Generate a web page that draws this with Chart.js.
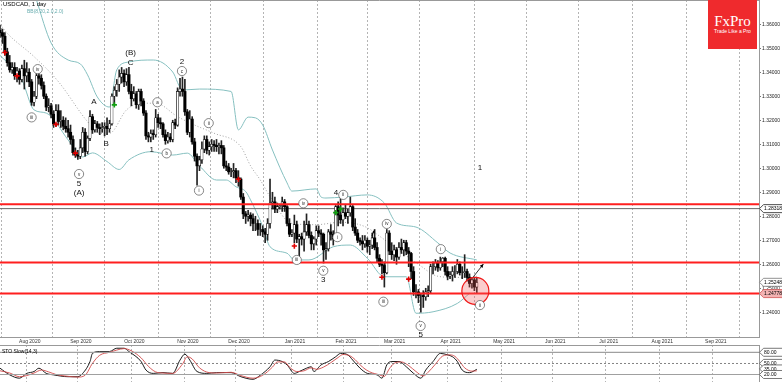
<!DOCTYPE html>
<html>
<head>
<meta charset="utf-8">
<title>USDCAD, 1 day</title>
<script src="https://cdn.jsdelivr.net/npm/chart.js@4.4.1/dist/chart.umd.min.js"></script>
<style>
  html, body { margin:0; padding:0; background:#fff; }
  body { width:782px; height:382px; position:relative; overflow:hidden; font-family:"Liberation Sans", Arial, sans-serif; }
  #main { position:absolute; left:0; top:0; }
  #sto { position:absolute; left:0; top:345px; }
  .title { position:absolute; left:3px; top:1px; font-size:6px; color:#000; white-space:nowrap; line-height:1; }
  .bb { position:absolute; left:27px; top:9px; font-size:5px; color:#6aaeb0; white-space:nowrap; line-height:1; }
  .sto-title { position:absolute; left:2px; top:349px; font-size:5px; color:#000; white-space:nowrap; line-height:1; }
  .logo { position:absolute; left:708px; top:0; width:49px; height:49px; background:#ef2a2d; color:#fff; text-align:center; }
  .logo .brand { font-family:"Liberation Serif", serif; font-size:15px; position:absolute; top:14px; left:0; width:100%; line-height:1; }
  .logo .tag { font-size:5px; position:absolute; top:29px; left:0; width:100%; line-height:1; }
</style>
</head>
<body>
<canvas id="main" width="782" height="345"></canvas>
<canvas id="sto" width="782" height="37"></canvas>
<div class="title">USDCAD, 1 day</div>
<div class="bb">BB(8,20,2.0,2.0)</div>
<div class="sto-title">STO Slow(14,3)</div>
<div class="logo"><div class="brand">FxPro</div><div class="tag">Trade Like a Pro</div></div>
<script>
// ---------------- DATA ----------------
const MONTHS = ['Jan','Feb','Mar','Apr','May','Jun','Jul','Aug','Sep','Oct','Nov','Dec'];
// trading-day categories (weekdays) 17 Jul 2020 .. 28 Sep 2021
const categories = [];
(function () {
  const d = new Date(Date.UTC(2020, 6, 17)), end = Date.UTC(2021, 8, 28);
  while (d.getTime() <= end) {
    const w = d.getUTCDay();
    if (w !== 0 && w !== 6) categories.push(d.toISOString().slice(0, 10));
    d.setUTCDate(d.getUTCDate() + 1);
  }
})();

const priceTicks = [1.24,1.25,1.26,1.27,1.28,1.29,1.30,1.31,1.32,1.33,1.34,1.35,1.36];

const opens = [
1.3575,1.3565,1.3550,1.3485,1.3440,1.3410,1.3420,1.3385,1.3405,1.3370,
1.3415,1.3385,1.3400,1.3360,1.3275,1.3300,1.3385,1.3375,1.3345,1.3300,
1.3255,1.3260,1.3225,1.3185,1.3240,1.3195,1.3200,1.3175,1.3165,1.3150,
1.3120,1.3065,1.3055,1.3050,1.3085,1.3150,1.3070,1.3125,1.3215,1.3160,
1.3185,1.3170,1.3165,1.3170,1.3175,1.3165,1.3185,1.3300,1.3325,1.3350,
1.3380,1.3395,1.3360,1.3390,1.3320,1.3290,1.3310,1.3265,1.3320,1.3280,
1.3230,1.3135,1.3130,1.3145,1.3140,1.3210,1.3190,1.3185,1.3140,1.3115,
1.3130,1.3120,1.3190,1.3180,1.3320,1.3330,1.3320,1.3235,1.3150,1.3205,
1.3110,1.3050,1.3010,1.3035,1.3080,1.3120,1.3075,1.3090,1.3100,1.3095,
1.3090,1.3095,1.3085,1.3010,1.3005,1.2985,1.2985,1.2990,1.2960,1.2955,
1.2880,1.2810,1.2800,1.2805,1.2790,1.2770,1.2770,1.2745,1.2745,1.2735,
1.2725,1.2770,1.2855,1.2860,1.2830,1.2840,1.2845,1.2860,1.2840,1.2770,
1.2725,1.2730,1.2765,1.2705,1.2715,1.2705,1.2735,1.2765,1.2720,1.2685,
1.2705,1.2740,1.2730,1.2725,1.2660,1.2665,1.2735,1.2725,1.2705,1.2840,
1.2805,1.2785,1.2815,1.2800,1.2815,1.2840,1.2755,1.2730,1.2700,1.2695,
1.2685,1.2700,1.2675,1.2680,1.2710,1.2670,1.2625,1.2600,1.2595,1.2565,
1.2730,1.2655,1.2640,1.2660,1.2630,1.2670,1.2660,1.2690,1.2655,1.2645,
1.2570,1.2485,1.2485,1.2470,1.2470,1.2465,1.2485,1.2490,1.2590,1.2590,
1.2605,1.2585,1.2610,1.2625,1.2570,1.2550,1.2555,1.2570,1.2570,1.2600,
1.2565,1.2565,1.2570,1.2545,1.2520,1.2535,1.2505];
const highs = [
1.3595,1.3580,1.3565,1.3500,1.3470,1.3440,1.3440,1.3420,1.3415,1.3430,
1.3450,1.3440,1.3415,1.3370,1.3320,1.3395,1.3395,1.3390,1.3360,1.3310,
1.3290,1.3270,1.3240,1.3265,1.3265,1.3240,1.3215,1.3210,1.3200,1.3180,
1.3135,1.3085,1.3075,1.3120,1.3170,1.3165,1.3135,1.3240,1.3225,1.3200,
1.3195,1.3185,1.3190,1.3190,1.3210,1.3200,1.3310,1.3340,1.3370,1.3410,
1.3420,1.3410,1.3415,1.3420,1.3350,1.3340,1.3320,1.3330,1.3330,1.3290,
1.3240,1.3150,1.3160,1.3160,1.3245,1.3225,1.3210,1.3190,1.3160,1.3150,
1.3145,1.3200,1.3205,1.3335,1.3375,1.3380,1.3370,1.3245,1.3240,1.3215,
1.3125,1.3060,1.3050,1.3110,1.3135,1.3135,1.3110,1.3120,1.3115,1.3120,
1.3105,1.3115,1.3095,1.3030,1.3020,1.3000,1.3020,1.3000,1.2990,1.2960,
1.2895,1.2820,1.2825,1.2815,1.2810,1.2800,1.2785,1.2770,1.2760,1.2750,
1.2790,1.2955,1.2900,1.2880,1.2855,1.2850,1.2880,1.2870,1.2845,1.2790,
1.2745,1.2805,1.2780,1.2725,1.2730,1.2780,1.2810,1.2780,1.2735,1.2715,
1.2760,1.2760,1.2745,1.2730,1.2690,1.2745,1.2765,1.2740,1.2845,1.2860,
1.2880,1.2835,1.2850,1.2830,1.2880,1.2845,1.2790,1.2745,1.2710,1.2720,
1.2720,1.2710,1.2700,1.2730,1.2745,1.2690,1.2640,1.2620,1.2610,1.2745,
1.2740,1.2690,1.2680,1.2670,1.2690,1.2705,1.2700,1.2700,1.2670,1.2650,
1.2590,1.2515,1.2495,1.2480,1.2490,1.2500,1.2510,1.2600,1.2610,1.2620,
1.2615,1.2630,1.2628,1.2630,1.2590,1.2570,1.2590,1.2595,1.2620,1.2610,
1.2590,1.2640,1.2580,1.2560,1.2545,1.2545,1.2545];
const lows = [
1.3545,1.3520,1.3470,1.3425,1.3400,1.3395,1.3370,1.3360,1.3350,1.3360,
1.3330,1.3360,1.3340,1.3262,1.3260,1.3290,1.3350,1.3330,1.3290,1.3240,
1.3235,1.3210,1.3170,1.3175,1.3180,1.3170,1.3160,1.3150,1.3130,1.3100,
1.3055,1.3045,1.3037,1.3040,1.3065,1.3050,1.3060,1.3115,1.3145,1.3150,
1.3150,1.3140,1.3150,1.3135,1.3140,1.3150,1.3180,1.3265,1.3300,1.3320,
1.3355,1.3340,1.3345,1.3310,1.3260,1.3280,1.3250,1.3245,1.3260,1.3220,
1.3120,1.3110,1.3110,1.3120,1.3130,1.3170,1.3165,1.3130,1.3100,1.3105,
1.3110,1.3110,1.3165,1.3175,1.3300,1.3300,1.3220,1.3140,1.3130,1.3100,
1.3030,1.2930,1.2990,1.3020,1.3065,1.3060,1.3055,1.3070,1.3070,1.3070,
1.3060,1.3060,1.3000,1.2990,1.2975,1.2965,1.2960,1.2940,1.2925,1.2870,
1.2790,1.2770,1.2780,1.2760,1.2740,1.2740,1.2720,1.2720,1.2715,1.2690,
1.2700,1.2750,1.2830,1.2815,1.2815,1.2830,1.2820,1.2820,1.2760,1.2715,
1.2715,1.2690,1.2690,1.2630,1.2680,1.2655,1.2720,1.2710,1.2660,1.2660,
1.2680,1.2715,1.2680,1.2605,1.2620,1.2655,1.2700,1.2680,1.2700,1.2760,
1.2770,1.2760,1.2790,1.2770,1.2800,1.2740,1.2720,1.2690,1.2680,1.2660,
1.2670,1.2650,1.2640,1.2665,1.2660,1.2610,1.2590,1.2560,1.2505,1.2560,
1.2640,1.2620,1.2615,1.2600,1.2620,1.2645,1.2635,1.2640,1.2590,1.2540,
1.2470,1.2460,1.2440,1.2400,1.2420,1.2450,1.2465,1.2480,1.2560,1.2575,
1.2570,1.2575,1.2590,1.2555,1.2535,1.2540,1.2530,1.2545,1.2560,1.2555,
1.2540,1.2545,1.2530,1.2505,1.2500,1.2490,1.2480];
const closes = [
1.3565,1.3550,1.3485,1.3440,1.3410,1.3420,1.3385,1.3405,1.3370,1.3415,
1.3385,1.3400,1.3360,1.3275,1.3300,1.3385,1.3375,1.3345,1.3300,1.3255,
1.3260,1.3225,1.3185,1.3240,1.3195,1.3200,1.3175,1.3165,1.3150,1.3120,
1.3065,1.3055,1.3050,1.3085,1.3150,1.3070,1.3125,1.3215,1.3160,1.3185,
1.3170,1.3165,1.3170,1.3175,1.3165,1.3185,1.3300,1.3325,1.3350,1.3380,
1.3395,1.3360,1.3390,1.3320,1.3290,1.3310,1.3265,1.3320,1.3280,1.3230,
1.3135,1.3130,1.3145,1.3140,1.3210,1.3190,1.3185,1.3140,1.3115,1.3130,
1.3120,1.3190,1.3180,1.3320,1.3330,1.3320,1.3235,1.3150,1.3205,1.3110,
1.3050,1.3010,1.3035,1.3080,1.3120,1.3075,1.3090,1.3100,1.3095,1.3090,
1.3095,1.3085,1.3010,1.3005,1.2985,1.2985,1.2990,1.2960,1.2955,1.2880,
1.2810,1.2800,1.2805,1.2790,1.2770,1.2770,1.2745,1.2745,1.2735,1.2725,
1.2770,1.2855,1.2860,1.2830,1.2840,1.2845,1.2860,1.2840,1.2770,1.2725,
1.2730,1.2765,1.2705,1.2715,1.2705,1.2735,1.2765,1.2720,1.2685,1.2705,
1.2740,1.2730,1.2725,1.2660,1.2665,1.2735,1.2725,1.2705,1.2840,1.2805,
1.2785,1.2815,1.2800,1.2815,1.2840,1.2755,1.2730,1.2700,1.2695,1.2685,
1.2700,1.2675,1.2680,1.2710,1.2670,1.2625,1.2600,1.2595,1.2565,1.2730,
1.2655,1.2640,1.2660,1.2630,1.2670,1.2660,1.2690,1.2655,1.2645,1.2570,
1.2485,1.2485,1.2470,1.2470,1.2465,1.2485,1.2490,1.2590,1.2590,1.2605,
1.2585,1.2610,1.2625,1.2570,1.2550,1.2555,1.2570,1.2570,1.2600,1.2565,
1.2565,1.2570,1.2545,1.2520,1.2535,1.2505,1.2524];

// Bollinger bands: [bar index, price]
const bbUpper = [[8,1.3920],[12,1.3800],[15,1.3701],[21,1.3522],[28,1.3451],[33,1.3435],[36,1.3389],[40,1.3297],[45,1.3255],[48,1.3410],[53,1.3443],[63,1.3451],[71,1.3401],[75,1.3326],[82,1.3330],[95,1.3320],[98,1.3160],[102,1.3213],[105,1.3210],[108,1.3180],[112,1.3076],[118,1.2939],[120,1.2905],[130,1.2914],[132,1.2880],[134,1.2876],[141,1.2880],[151,1.2889],[158,1.2855],[163,1.2772],[171,1.2755],[180,1.2689],[185,1.2647],[196,1.2618]];
const bbMiddle = [[0,1.3600],[3,1.3562],[14,1.3465],[24,1.3361],[36,1.3194],[41,1.3146],[45,1.3146],[52,1.3243],[58,1.3271],[64,1.3271],[73,1.3215],[80,1.3180],[88,1.3146],[99,1.3090],[103,1.3010],[107,1.2951],[111,1.2882],[120,1.2770],[130,1.2765],[140,1.2775],[150,1.2757],[157,1.2710],[165,1.2650],[172,1.2600],[180,1.2550],[188,1.2545],[196,1.2550]];
const bbLower = [[0,1.3470],[5,1.3420],[9,1.3368],[14,1.3243],[19,1.3230],[28,1.3118],[32,1.3064],[34,1.3047],[38,1.3064],[44,1.3028],[49,1.2995],[53,1.3035],[62,1.3069],[71,1.3055],[77,1.3063],[82,1.3010],[89,1.2951],[93,1.2951],[97,1.2923],[101,1.2903],[103,1.2868],[108,1.2757],[111,1.2673],[118,1.2646],[121,1.2618],[127,1.2618],[137,1.2673],[144,1.2680],[151,1.2625],[158,1.2548],[167,1.2548],[171,1.2396],[178,1.2402],[188,1.2437],[193,1.2479]];

// Stochastic slow (14,3): [bar index, value]
const stoK = [[0,37],[4,19],[8,10],[11,23],[14,28],[16,37],[19,23],[22,19],[28,14],[32,14],[34,23],[37,55],[38,77],[41,82],[45,82],[48,91],[51,91],[53,82],[58,55],[60,32],[63,23],[67,25],[71,23],[74,59],[76,75],[78,59],[81,28],[85,23],[89,25],[95,25],[99,14],[104,7],[107,18],[111,41],[113,59],[116,55],[118,46],[121,23],[123,28],[126,37],[128,41],[129,28],[132,46],[135,55],[138,68],[140,77],[143,73],[145,59],[148,37],[151,23],[155,19],[157,10],[159,46],[161,55],[164,55],[167,41],[170,23],[173,10],[175,32],[178,55],[181,77],[184,73],[186,68],[188,55],[190,32],[193,25],[196,34]];
const stoD = [[0,30],[4,24],[8,14],[11,17],[14,24],[17,32],[20,27],[23,20],[28,15],[32,13],[35,18],[38,50],[41,72],[45,80],[48,86],[51,90],[54,84],[58,65],[61,42],[64,27],[67,24],[71,23],[75,48],[77,68],[79,62],[82,38],[86,25],[89,24],[95,26],[99,17],[104,10],[108,18],[112,40],[114,54],[117,54],[119,40],[122,28],[125,30],[128,38],[130,34],[133,40],[136,52],[139,66],[141,74],[144,70],[146,60],[149,40],[152,27],[156,19],[158,15],[160,35],[162,50],[165,54],[168,44],[171,28],[174,16],[176,26],[179,48],[182,70],[185,73],[187,69],[189,55],[191,38],[194,29],[196,30]];
const stoLevels = [80, 50, 20];
const stoTags = [80, 50, 35, 20];

// horizontal levels and price tags
const redLevels = [1.2850, 1.2607, 1.24778];
const greyLevel = 1.28318;
const priceTags = [1.28318, 1.25248, 1.24778];

// signal markers [bar index, price]
const redMarkers = [[2,1.3482],[7,1.3385],[23,1.3183],[31,1.3063],[98,1.2954],[121,1.2676],[157,1.2546],[168,1.2538]];
const greenMarkers = [[47,1.3264],[138,1.2815],[140,1.2830]];

// Elliott wave labels [text, bar index, price]
const waveLabels = [['5',32.5,1.2936],['(A)',32.5,1.2896],['A',38.6,1.3278],['B',43.6,1.3104],['(B)',53.7,1.3482],['C',53.7,1.3438],['1',62.4,1.3076],['2',74.8,1.3444],['3',132.9,1.2535],['4',138.1,1.2898],['5',172.9,1.2308],['1',197.3,1.3000]];
const circledLabels = [['iv',15.5,1.3413],['iii',13,1.3212],['v',32.5,1.2976],['a',64.7,1.3275],['b',68.5,1.3062],['c',74.8,1.3405],['i',81.8,1.2907],['ii',85.8,1.3188],['iii',122,1.2618],['iv',124.7,1.2854],['v',132.9,1.2573],['i',138.7,1.2713],['ii',141.1,1.2889],['iv',159,1.2768],['iii',157.6,1.2444],['v',172.9,1.2343],['i',181.2,1.2663],['ii',197.3,1.2430]];
const targetCircle = [195.4, 1.2489];
const targetArrow = [[194.6,1.2548],[198.7,1.2601]];
const smallArrow = [[152.9,1.2718],[153.9,1.2742]];

// ---------------- BUILD ----------------
const lastIdx = categories.length - 1;
const monthTicks = [], monthLabels = {};
categories.forEach((d, i) => {
  if (i > 0 && d.slice(5, 7) !== categories[i - 1].slice(5, 7)) {
    monthTicks.push(i);
    monthLabels[i] = MONTHS[+d.slice(5, 7) - 1] + ' ' + d.slice(0, 4);
  }
});
const pairs = arr => arr.map(([i, v]) => ({x: i, y: v}));
const FONT = '"Liberation Sans", Arial, sans-serif';
Chart.defaults.font.family = FONT;

const up = closes.map((c, i) => c >= opens[i]);

const xCommon = {
  type: 'linear', min: 0, max: lastIdx, offset: false,
  afterBuildTicks: s => { s.ticks = monthTicks.map(v => ({value: v})); },
  grid: { color: '#b4b4b4', lineWidth: 1, drawTicks: false },
  border: { display: false, dash: [2, 2] }
};

function lineDS(data, color, width, extra) {
  return Object.assign({type: 'line', data, borderColor: color, borderWidth: width, pointRadius: 0, fill: false, tension: 0}, extra || {});
}

function drawTag(ctx, x0, y, text, fill, stroke) {
  ctx.beginPath();
  ctx.moveTo(x0, y); ctx.lineTo(x0 + 4, y - 4); ctx.lineTo(x0 + 30, y - 4);
  ctx.lineTo(x0 + 30, y + 4); ctx.lineTo(x0 + 4, y + 4); ctx.closePath();
  ctx.fillStyle = fill; ctx.fill();
  ctx.strokeStyle = stroke; ctx.lineWidth = 0.8; ctx.stroke();
  ctx.fillStyle = '#000'; ctx.font = '5px ' + FONT;
  ctx.textAlign = 'left'; ctx.textBaseline = 'middle';
  ctx.fillText(text, x0 + 4.5, y + 0.3);
}

const mainDeco = {
  id: 'mainDeco',
  afterDatasetsDraw(chart) {
    const {ctx, scales: {x, y}} = chart;
    const px = v => x.getPixelForValue(v), py = v => y.getPixelForValue(v);
    ctx.save();
    // target circle
    ctx.beginPath();
    ctx.arc(px(targetCircle[0]), py(targetCircle[1]), 13.5, 0, Math.PI * 2);
    ctx.fillStyle = 'rgba(240,90,90,0.30)'; ctx.fill();
    ctx.strokeStyle = '#f01818'; ctx.lineWidth = 1.2; ctx.stroke();
    // arrows
    const arrow = (a, b, head) => {
      const x1 = px(a[0]), y1 = py(a[1]), x2 = px(b[0]), y2 = py(b[1]);
      ctx.beginPath(); ctx.moveTo(x1, y1); ctx.lineTo(x2, y2);
      ctx.strokeStyle = '#000'; ctx.lineWidth = 0.8; ctx.stroke();
      const ang = Math.atan2(y2 - y1, x2 - x1);
      ctx.beginPath();
      ctx.moveTo(x2, y2);
      ctx.lineTo(x2 - head * Math.cos(ang - 0.45), y2 - head * Math.sin(ang - 0.45));
      ctx.lineTo(x2 - head * Math.cos(ang + 0.45), y2 - head * Math.sin(ang + 0.45));
      ctx.closePath(); ctx.fillStyle = '#000'; ctx.fill();
    };
    arrow(targetArrow[0], targetArrow[1], 4);
    arrow(smallArrow[0], smallArrow[1], 3);
    // wave labels
    ctx.fillStyle = '#111'; ctx.font = '8px ' + FONT;
    ctx.textAlign = 'center'; ctx.textBaseline = 'middle';
    waveLabels.forEach(([t, i, v]) => ctx.fillText(t, px(i), py(v)));
    // circled labels
    circledLabels.forEach(([t, i, v]) => {
      const cx = px(i), cy = py(v);
      ctx.beginPath(); ctx.arc(cx, cy, 4.6, 0, Math.PI * 2);
      ctx.fillStyle = '#fff'; ctx.fill();
      ctx.strokeStyle = '#555'; ctx.lineWidth = 0.7; ctx.stroke();
      ctx.fillStyle = '#222'; ctx.font = '4.5px ' + FONT;
      ctx.fillText(t, cx, cy + 0.3);
    });
    ctx.restore();
  },
  afterDraw(chart) {
    const {ctx, chartArea: a, scales: {y}} = chart;
    ctx.save();
    ctx.strokeStyle = '#999'; ctx.lineWidth = 1;
    ctx.beginPath();
    ctx.moveTo(0, 0.5); ctx.lineTo(a.right, 0.5);
    ctx.moveTo(0, Math.round(a.bottom) + 0.5); ctx.lineTo(a.right, Math.round(a.bottom) + 0.5);
    ctx.stroke();
    const styles = [['#fff', '#222'], ['#fff', '#777'], ['#f3b3b3', '#d05050']];
    priceTags.forEach((v, k) => drawTag(ctx, a.right + 0.5, y.getPixelForValue(v), v.toFixed(5), styles[k][0], styles[k][1]));
    ctx.restore();
  }
};

new Chart(document.getElementById('main'), {
  type: 'bar',
  data: {
    datasets: [
      lineDS(pairs(bbUpper), '#86c0c0', 1, {order: 6, cubicInterpolationMode: 'monotone'}),
      lineDS(pairs(bbLower), '#86c0c0', 1, {order: 6, cubicInterpolationMode: 'monotone'}),
      lineDS(pairs(bbMiddle), '#8a8a8a', 0.8, {order: 6, borderDash: [1, 2], cubicInterpolationMode: 'monotone'}),
      lineDS([{x: 0, y: greyLevel}, {x: lastIdx, y: greyLevel}], '#666', 1, {order: 5}),
      {type: 'bar', data: closes.map((c, i) => ({x: i, y: [lows[i], highs[i]]})), backgroundColor: '#222',
       barThickness: 1, grouped: false, order: 4},
      {type: 'bar', data: closes.map((c, i) => ({x: i, y: [opens[i], c]})),
       backgroundColor: up.map(u => u ? '#fff' : '#000'), borderColor: '#000',
       borderWidth: up.map(u => u ? 0.6 : 0), borderSkipped: false,
       barThickness: 2.4, grouped: false, order: 3},
      ...redLevels.map(v => lineDS([{x: 0, y: v}, {x: lastIdx, y: v}], '#ff1f1f', 2, {order: 2})),
      lineDS(pairs(redMarkers), '#e00000', 1.6, {order: 1, showLine: false, pointRadius: 2.6, pointStyle: 'cross', pointBorderColor: '#e00000', pointBorderWidth: 1.6}),
      lineDS(pairs(greenMarkers), '#10a010', 1.6, {order: 1, showLine: false, pointRadius: 2.6, pointStyle: 'cross', pointBorderColor: '#10a010', pointBorderWidth: 1.6})
    ]
  },
  options: {
    responsive: false, animation: false, events: [], devicePixelRatio: 1,
    layout: {padding: 0, autoPadding: false},
    plugins: {legend: {display: false}, tooltip: {enabled: false}},
    scales: {
      x: Object.assign({}, xCommon, {
        ticks: {display: true, autoSkip: false, maxRotation: 0, padding: 2, labelOffset: 3,
                font: {size: 5}, color: '#333', callback: v => monthLabels[v] || ''},
        afterFit: s => { s.height = 8; s.paddingLeft = 0; s.paddingRight = 0; }
      }),
      y: {
        type: 'linear', position: 'right', min: 1.2297, max: 1.3701,
        afterBuildTicks: s => { s.ticks = priceTicks.map(v => ({value: v})); },
        ticks: {font: {size: 5}, color: '#222', padding: 1, callback: v => v.toFixed(5)},
        grid: {drawOnChartArea: false, drawTicks: true, tickLength: 2, color: '#777'},
        border: {display: true, color: '#999'},
        afterFit: s => { s.width = 23; s.paddingTop = 0; s.paddingBottom = 0; }
      }
    }
  },
  plugins: [mainDeco]
});

// ---------------- STOCHASTIC PANEL ----------------
const stoDeco = {
  id: 'stoDeco',
  afterDraw(chart) {
    const {ctx, chartArea: a, scales: {y}} = chart;
    ctx.save();
    ctx.strokeStyle = '#999'; ctx.lineWidth = 1;
    ctx.beginPath(); ctx.moveTo(0, 0.5); ctx.lineTo(a.right, 0.5); ctx.stroke();
    stoTags.forEach(v => drawTag(ctx, a.right + 0.5, y.getPixelForValue(v), v.toFixed(2), '#fff', '#555'));
    ctx.restore();
  }
};

new Chart(document.getElementById('sto'), {
  type: 'line',
  data: {
    datasets: [
      lineDS([{x: 0, y: stoLevels[0]}, {x: lastIdx, y: stoLevels[0]}], '#a0a0a0', 1.2),
      lineDS([{x: 0, y: stoLevels[1]}, {x: lastIdx, y: stoLevels[1]}], '#666', 0.8, {borderDash: [2, 2]}),
      lineDS([{x: 0, y: stoLevels[2]}, {x: lastIdx, y: stoLevels[2]}], '#a0a0a0', 1.2),
      lineDS(pairs(stoD), '#d04a4a', 0.9, {cubicInterpolationMode: 'monotone'}),
      lineDS(pairs(stoK), '#000', 0.9, {cubicInterpolationMode: 'monotone'})
    ]
  },
  options: {
    responsive: false, animation: false, events: [], devicePixelRatio: 1,
    layout: {padding: 0, autoPadding: false},
    plugins: {legend: {display: false}, tooltip: {enabled: false}},
    scales: {
      x: Object.assign({}, xCommon, {
        ticks: {display: false},
        afterFit: s => { s.height = 0; s.paddingLeft = 0; s.paddingRight = 0; }
      }),
      y: {
        type: 'linear', position: 'right', min: -0.3, max: 99.7,
        ticks: {display: false}, grid: {display: false},
        border: {display: true, color: '#999'},
        afterFit: s => { s.width = 23; s.paddingTop = 0; s.paddingBottom = 0; }
      }
    }
  },
  plugins: [stoDeco]
});
</script>
</body>
</html>
